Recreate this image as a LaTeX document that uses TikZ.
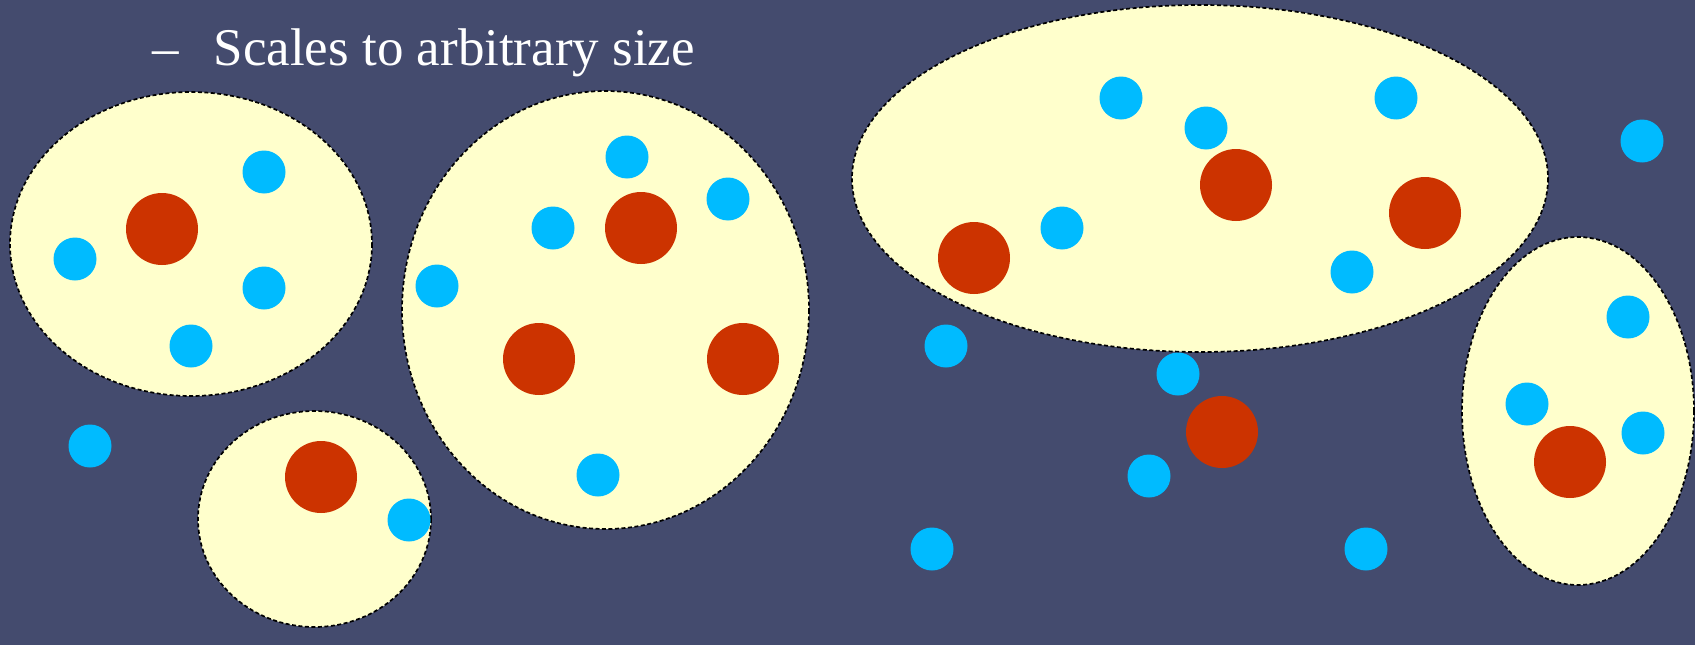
\documentclass[tikz,border=0pt]{standalone}
\usepackage{fontspec}
\setmainfont{Liberation Serif}
\definecolor{bgc}{RGB}{68,75,110}
\definecolor{setc}{RGB}{255,255,204}
\definecolor{redc}{RGB}{204,51,0}
\definecolor{bluec}{RGB}{0,187,255}
\tikzset{
  setfill/.style={fill=setc,draw=black,line width=1.7pt,dash pattern=on 4pt off 2.5pt},
  bdot/.style={circle,fill=bluec,inner sep=0pt,minimum size=43pt},
  rdot/.style={circle,fill=redc,inner sep=0pt,minimum size=72pt}
}
\begin{document}
\begin{tikzpicture}[x=1pt,y=-1pt]
\fill[bgc] (0,0) rectangle (1695,645);
\useasboundingbox (0,0) rectangle (1695,645);
\node[anchor=base west,text=white,font=\fontsize{53}{60}\selectfont,inner sep=0pt] (title) at (152,65) {–\hspace{35pt}Scales to arbitrary size};
% sets
\draw[setfill] (191,244) ellipse [x radius=181,y radius=152];
\draw[setfill] (314.5,519) ellipse [x radius=116.5,y radius=108];
\draw[setfill] (605.5,310) ellipse [x radius=203.5,y radius=219];
\draw[setfill] (1200,178.5) ellipse [x radius=348,y radius=173.5];
\draw[setfill] (1578,411) ellipse [x radius=116,y radius=174];
% set 1
\node[rdot] (r1) at (162,229) {};
\node[bdot] (b1) at (264,172) {};
\node[bdot] (b2) at (75,259) {};
\node[bdot] (b3) at (264,288) {};
\node[bdot] (b4) at (191,346) {};
% set 2
\node[rdot] (r2) at (321,477) {};
\node[bdot] (b5) at (409,520) {};
% set 3
\node[bdot] (b6) at (627,157) {};
\node[bdot] (b7) at (728,199) {};
\node[bdot] (b8) at (553,228) {};
\node[bdot] (b9) at (437,286) {};
\node[bdot] (b10) at (598,475) {};
\node[rdot] (r3) at (641,228) {};
\node[rdot] (r4) at (539,359) {};
\node[rdot] (r5) at (743,359) {};
% set 4
\node[bdot] (b11) at (1121,98) {};
\node[bdot] (b12) at (1206,128) {};
\node[bdot] (b13) at (1396,98) {};
\node[bdot] (b14) at (1062,228) {};
\node[bdot] (b15) at (1352,272) {};
\node[rdot] (r6) at (1236,185) {};
\node[rdot] (r7) at (1425,213) {};
\node[rdot] (r8) at (974,258) {};
% set 5
\node[bdot] (b16) at (1628,317) {};
\node[bdot] (b17) at (1527,404) {};
\node[bdot] (b18) at (1643,433) {};
\node[rdot] (r9) at (1570,462) {};
% outside
\node[bdot] (b19) at (1642,141) {};
\node[bdot] (b20) at (946,346) {};
\node[bdot] (b21) at (1178,374) {};
\node[bdot] (b22) at (1149,476) {};
\node[bdot] (b23) at (932,549) {};
\node[bdot] (b24) at (1366,549) {};
\node[bdot] (b25) at (90,446) {};
\node[rdot] (r10) at (1222,432) {};
\end{tikzpicture}
\end{document}
